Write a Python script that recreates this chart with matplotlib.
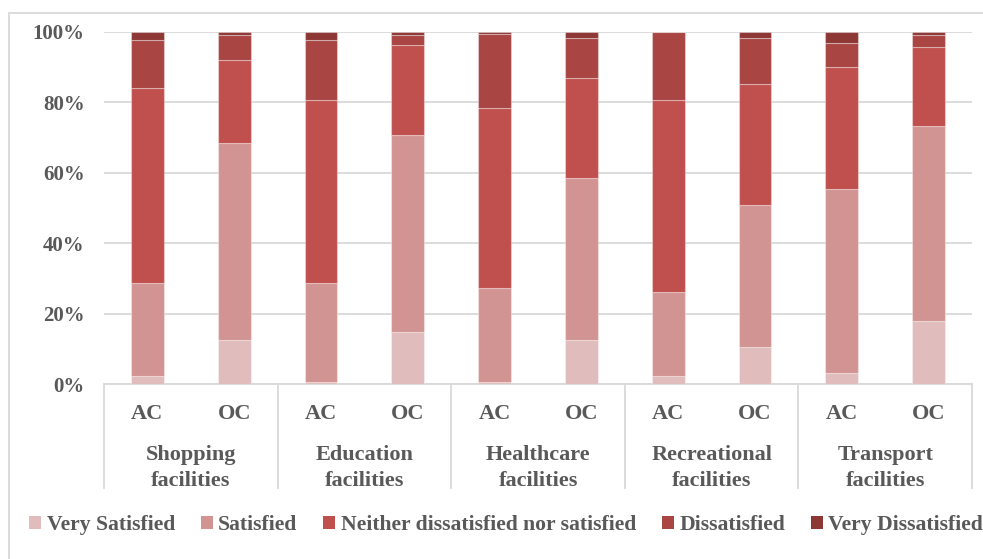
import matplotlib
matplotlib.use("Agg")
import matplotlib.pyplot as plt
from matplotlib.patches import Rectangle, Patch
import numpy as np

plt.rcParams['font.family'] = ['Liberation Serif', 'DejaVu Serif']
plt.rcParams['font.weight'] = 'bold'

groups = ['Shopping\nfacilities', 'Education\nfacilities', 'Healthcare\nfacilities',
          'Recreational\nfacilities', 'Transport\nfacilities']
subs = ['AC', 'OC']
levels = ['Very Satisfied', 'Satisfied', 'Neither dissatisfied nor satisfied',
          'Dissatisfied', 'Very Dissatisfied']

# percentages per bar: Shop AC, Shop OC, Edu AC, Edu OC, Health AC, Health OC,
# Rec AC, Rec OC, Transport AC, Transport OC
very_satisfied = [2.3, 12.7, 0.6, 14.8, 0.6, 12.7, 2.3, 10.5, 3.3, 17.9]
satisfied = [26.5, 55.7, 28.2, 55.8, 26.7, 45.8, 23.8, 40.4, 52.1, 55.3]
neither = [55.3, 23.6, 51.8, 25.6, 51.0, 28.3, 54.5, 34.2, 34.6, 22.5]
dissatisfied = [13.5, 6.9, 17.0, 2.7, 21.0, 11.4, 19.4, 13.1, 6.8, 3.2]
very_dissatisfied = [2.4, 1.1, 2.4, 1.1, 0.7, 1.8, 0.0, 1.8, 3.2, 1.1]

colors = ['#E0BCBC', '#D29493', '#C0504D', '#A94543', '#8E3836']
txt = '#595959'
grid = '#D9D9D9'

series = [very_satisfied, satisfied, neither, dissatisfied, very_dissatisfied]

fig = plt.figure(figsize=(9.83, 5.59), dpi=100)
ax = fig.add_axes([0.1058, 0.3125, 0.8830, 0.6311])

x = np.arange(len(very_satisfied))
bottom = np.zeros(len(x))
for vals, c in zip(series, colors):
    vals = np.array(vals)
    ax.bar(x, vals, 0.38, bottom=bottom, color=c, edgecolor=(1, 1, 1, 0.35),
           linewidth=0.8, zorder=3)
    bottom += vals

ax.set_xlim(-0.5, len(x) - 0.5)
ax.set_ylim(0, 100)
ax.set_yticks(range(0, 101, 20))
ax.set_yticklabels([f'{v}%' for v in range(0, 101, 20)], fontsize=15,
                   color=txt, fontweight='bold')
ax.tick_params(axis='y', length=0, pad=14)
ax.yaxis.grid(True, color=grid, linewidth=1.3, zorder=0)
for s in ['left', 'right', 'top']:
    ax.spines[s].set_visible(False)
ax.spines['bottom'].set_color(grid)
ax.spines['bottom'].set_linewidth(1.3)

ax.set_xticks(x)
ax.set_xticklabels(subs * len(groups), fontsize=16, color=txt, fontweight='bold')
ax.tick_params(axis='x', length=0, pad=14)

# group separators and names
for i in range(len(groups) + 1):
    ax.plot([i * 2 - 0.5] * 2, [0, -0.294], transform=ax.get_xaxis_transform(),
            color=grid, linewidth=1.3, clip_on=False)
for i, g in enumerate(groups):
    ax.text(i * 2 + 0.5, -0.237, g, transform=ax.get_xaxis_transform(),
            ha='center', va='center', fontsize=16, color=txt, fontweight='bold',
            linespacing=1.35)

# outer chart border
fig.add_artist(Rectangle((9 / 983, -0.05), 1.1, 1.05 - 13 / 559, transform=fig.transFigure,
                         fill=False, edgecolor=grid, linewidth=1.3))

handles = [Patch(facecolor=c, edgecolor='none') for c in colors]
leg = fig.legend(handles, levels, loc='center', bbox_to_anchor=(0.515, 0.061), ncol=5,
                 frameon=False, fontsize=15.6, handlelength=0.55, handleheight=0.55,
                 handletextpad=0.25, columnspacing=1.2, borderaxespad=0)
for t in leg.get_texts():
    t.set_color(txt)
    t.set_fontweight('bold')

fig.savefig('out.png', dpi=100)
